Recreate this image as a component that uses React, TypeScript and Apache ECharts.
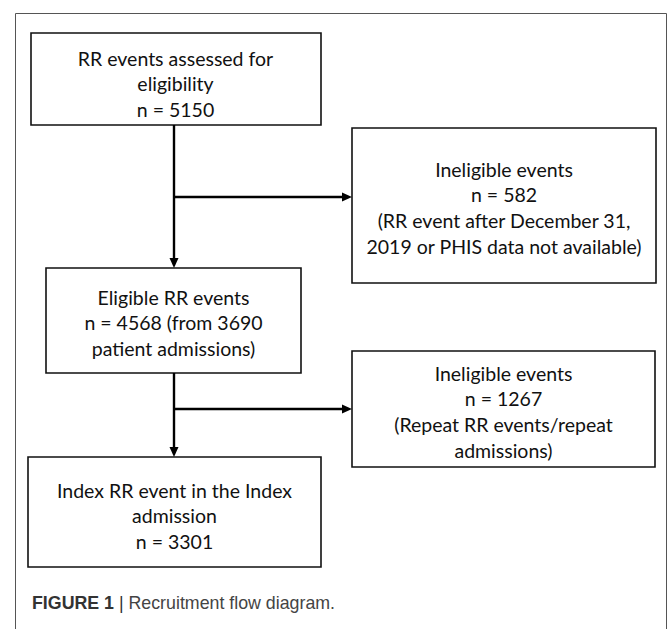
import React, { useEffect, useRef } from "react";
import * as echarts from "echarts";

// ---- data ----
const stageTitles = [
  "RR events assessed for",
  "Ineligible events",
  "Eligible RR events",
  "Ineligible events",
  "Index RR event in the Index",
];
const stageCounts = [5150, 582, 4568, 1267, 3301];
const stageExtraBefore = ["eligibility", "", "", "", "admission"];
const stageCountSuffix = ["", "", " (from 3690", "", ""];
const stageNotes = [
  [],
  ["(RR event after December 31,", "2019 or PHIS data not available)"],
  ["patient admissions)"],
  ["(Repeat RR events/repeat", "admissions)"],
  [],
];
const captionBold = "FIGURE 1";
const captionText = "Recruitment flow diagram.";

// ---- layout (positions / sizes) ----
const boxLayout = [
  { x: 31, y: 33, w: 290, h: 92, cx: 175.5, firstLine: 58 },
  { x: 352, y: 128, w: 304, h: 155, cx: 504, firstLine: 169 },
  { x: 46, y: 268, w: 255, h: 105, cx: 173.5, firstLine: 297 },
  { x: 352, y: 351, w: 303, h: 116, cx: 503.5, firstLine: 373 },
  { x: 28, y: 457, w: 293, h: 110, cx: 174.5, firstLine: 490 },
];
const LINE_H = 25.8;
const TRUNK_X = 174;

function buildLines(i: number): string[] {
  const lines: string[] = [stageTitles[i]];
  if (stageExtraBefore[i]) lines.push(stageExtraBefore[i]);
  lines.push("n = " + stageCounts[i] + stageCountSuffix[i]);
  stageNotes[i].forEach((l) => lines.push(l));
  return lines;
}

function arrowHead(tipX: number, tipY: number, dir: "down" | "right") {
  const len = 10;
  const half = 4.5;
  const pts =
    dir === "down"
      ? [
          [tipX, tipY],
          [tipX - half, tipY - len],
          [tipX + half, tipY - len],
        ]
      : [
          [tipX, tipY],
          [tipX - len, tipY - half],
          [tipX - len, tipY + half],
        ];
  return {
    type: "polygon",
    shape: { points: pts },
    style: { fill: "#000" },
    silent: true,
  };
}

function line(x1: number, y1: number, x2: number, y2: number, w = 2.4) {
  return {
    type: "line",
    shape: { x1, y1, x2, y2 },
    style: { stroke: "#000", lineWidth: w },
    silent: true,
  };
}

export default function App() {
  const ref = useRef<HTMLDivElement>(null);
  useEffect(() => {
    if (!ref.current) return;
    const chart = echarts.init(ref.current, undefined, { renderer: "svg" });
    const elements: any[] = [];

    // outer frame (open at bottom)
    elements.push({
      type: "polyline",
      shape: {
        points: [
          [15.5, 629],
          [15.5, 13.5],
          [666.5, 13.5],
          [666.5, 629],
        ],
      },
      style: { stroke: "#555", lineWidth: 1, fill: "none" },
      silent: true,
    });

    // boxes
    boxLayout.forEach((b, i) => {
      elements.push({
        type: "rect",
        shape: { x: b.x, y: b.y, width: b.w, height: b.h },
        style: { fill: "#fff", stroke: "#111", lineWidth: 1.6 },
        silent: true,
      });
      const lines = buildLines(i);
      lines.forEach((t, k) => {
        elements.push({
          type: "text",
          x: b.cx,
          y: b.firstLine + k * LINE_H,
          style: {
            text: t,
            fill: "#111",
            font: '19.5px Lato, "Open Sans", sans-serif',
            align: "center",
            verticalAlign: "middle",
          },
          silent: true,
        });
      });
    });

    // connectors
    const b0 = boxLayout[0], b1 = boxLayout[1], b2 = boxLayout[2], b3 = boxLayout[3], b4 = boxLayout[4];
    elements.push(line(TRUNK_X, b0.y + b0.h, TRUNK_X, b2.y - 8));
    elements.push(arrowHead(TRUNK_X, b2.y, "down"));
    elements.push(line(TRUNK_X, 197, b1.x - 8, 197));
    elements.push(arrowHead(b1.x, 197, "right"));
    elements.push(line(TRUNK_X, b2.y + b2.h, TRUNK_X, b4.y - 8));
    elements.push(arrowHead(TRUNK_X, b4.y, "down"));
    elements.push(line(TRUNK_X, 409, b3.x - 8, 409));
    elements.push(arrowHead(b3.x, 409, "right"));

    // caption
    elements.push({
      type: "text",
      x: 32,
      y: 603,
      style: {
        text: "{b|" + captionBold + "}{s| | }{r|" + captionText + "}",
        verticalAlign: "middle",
        align: "left",
        rich: {
          b: { font: 'bold 17.8px "Liberation Sans", Arial, sans-serif', fill: "#333" },
          s: { font: '17.8px "Liberation Sans", Arial, sans-serif', fill: "#333" },
          r: { font: '17.8px "Liberation Sans", Arial, sans-serif', fill: "#444" },
        },
      },
      silent: true,
    });

    chart.setOption({
      animation: false,
      backgroundColor: "#fff",
      graphic: { elements },
    });
    return () => chart.dispose();
  }, []);

  return (
    <div
      ref={ref}
      style={{ position: "absolute", left: 0, top: 0, width: 670, height: 629 }}
    />
  );
}
